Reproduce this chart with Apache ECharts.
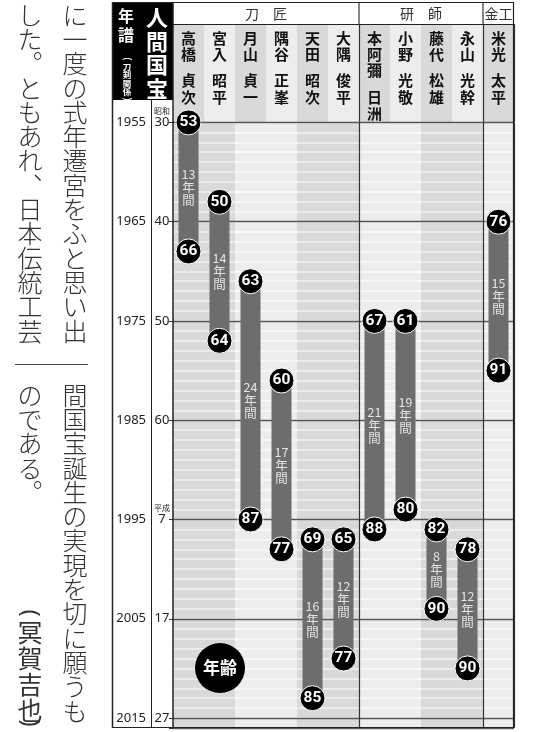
<!DOCTYPE html>
<html><head><meta charset="utf-8">
<script src="https://cdn.jsdelivr.net/npm/echarts@6.0.0/dist/echarts.min.js"></script>
<style>html,body{margin:0;padding:0;background:#fff}#c{width:537px;height:732px}</style>
</head><body><div id="c"></div>
<script>
// ---- data ----
const familyNames = ['高橋','宮入','月山','隅谷','天田','大隅','本阿彌','小野','藤代','永山','米光'];
const givenNames  = ['貞次','昭平','貞一','正峯','昭次','俊平','日洲','光敬','松雄','光幹','太平'];
const groupLabels = ['刀　匠','研　師','金工'];
const groupSizes  = [6,4,1];
const startYears  = [1955,1963,1971,1981,1997,1997,1975,1975,1996,1998,1965];
const endYears    = [1968,1977,1995,1998,2013,2009,1996,1994,2004,2010,1980];
const startAges   = [53,50,63,60,69,65,67,61,82,78,76];
const endAges     = [66,64,87,77,85,77,88,80,90,90,91];
const durations   = [13,14,24,17,16,12,21,19,8,12,15];
const yearTicks   = [1955,1965,1975,1985,1995,2005,2015];
const eraTicks    = ['30','40','50','60','7','17','27'];
const eraNames    = {1955:'昭和',1995:'平成'};
const bodyTop1 = ['に一度の式年遷宮をふと思い出','した。ともあれ、日本伝統工芸'];
const bodyTop2 = ['間国宝誕生の実現を切に願うも','のである。'];
const byline = '冥賀吉也';

// ---- layout ----
const GL = 173, GR = 23, W = 537;
const cw = (W - GL - GR) / familyNames.length;
const CJK = '"Noto Sans CJK JP","Noto Sans CJK SC",sans-serif';
const vert = s => s.replace(/。/g,'︒').replace(/、/g,'︑').split('').join('\n');

const chart = echarts.init(document.getElementById('c'), null, {renderer:'canvas'});

const circleData = [];
familyNames.forEach((_, i) => {
  circleData.push([i, startYears[i], startAges[i]]);
  circleData.push([i, endYears[i], endAges[i]]);
});
const barData = familyNames.map((_, i) => [i, startYears[i], endYears[i], durations[i]]);

const areaColors = ['#d9d9d9', '#ededed'];
const sepLine = {show:true, interval:(idx) => idx === 6 || idx === 10, lineStyle:{color:'#333', width:1.2}};

// graphics (frame, header, body text)
const graphics = [];
const line = (x1,y1,x2,y2,w,c) => graphics.push({type:'line', shape:{x1,y1,x2,y2}, style:{stroke:c||'#222', lineWidth:w||1.2}, z:100});
// black title block
graphics.push({type:'rect', shape:{x:112, y:2, width:61, height:98}, style:{fill:'#000'}, z:99});
graphics.push({type:'text', x:157, y:6, style:{text:vert('人間国宝'), fontSize:22, lineHeight:23.5, fontWeight:'bold', fontFamily:CJK, fill:'#fff', align:'center', verticalAlign:'top'}, z:101});
graphics.push({type:'text', x:126, y:6, style:{text:vert('年譜'), fontSize:16, lineHeight:19, fontWeight:'bold', fontFamily:CJK, fill:'#fff', align:'center', verticalAlign:'top'}, z:101});
graphics.push({type:'text', x:127, y:62, style:{text:vert('刀剣関係'), fontSize:8.5, lineHeight:8.6, fontWeight:'bold', fontFamily:CJK, fill:'#fff', align:'center', verticalAlign:'top'}, z:101});
graphics.push({type:'text', x:127, y:59, rotation:-Math.PI/2, style:{text:'(', fontSize:10, fontFamily:'"Noto Sans",sans-serif', fill:'#fff', align:'center', verticalAlign:'middle'}, z:101});
graphics.push({type:'text', x:127, y:99, rotation:-Math.PI/2, style:{text:')', fontSize:10, fontFamily:'"Noto Sans",sans-serif', fill:'#fff', align:'center', verticalAlign:'middle'}, z:101});
// frame
line(112.5,2,112.5,728,1.5);
line(151.5,100,151.5,728,1);
line(173,2,173,728,1.5);
line(112,2.5,514,2.5,1.2);
line(173,24.5,514,24.5,1.2);
line(513.5,2,513.5,728,1.2);
line(112,727.5,514,727.5,1.2);
// group header
let acc = 0;
groupLabels.forEach((g, k) => {
  const cx = GL + (acc + groupSizes[k] / 2) * cw;
  graphics.push({type:'text', x:cx, y:13.5, style:{text:g, fontSize:14, fontFamily:CJK, fill:'#333', align:'center', verticalAlign:'middle'}, z:101});
  acc += groupSizes[k];
  if (k < groupLabels.length - 1) line(GL + acc * cw, 2, GL + acc * cw, 24, 1.2, '#333');
});
// body text (vertical, two tiers)
const bodyStyle = {fontSize:25, lineHeight:24.3, fontFamily:CJK, fontWeight:300, fill:'#333', align:'center', verticalAlign:'top'};
graphics.push({type:'text', x:75, y:3, style:Object.assign({text:vert(bodyTop1[0])}, bodyStyle)});
graphics.push({type:'text', x:30, y:3, style:Object.assign({text:vert(bodyTop1[1])}, bodyStyle)});
graphics.push({type:'line', shape:{x1:15, y1:364.5, x2:88, y2:364.5}, style:{stroke:'#444', lineWidth:1}});
graphics.push({type:'text', x:75, y:383, style:Object.assign({text:vert(bodyTop2[0])}, bodyStyle)});
graphics.push({type:'text', x:30, y:383, style:Object.assign({text:vert(bodyTop2[1])}, bodyStyle)});
graphics.push({type:'text', x:30, y:619, style:Object.assign({}, bodyStyle, {text:vert(byline), lineHeight:26, fontWeight:'normal'})});
graphics.push({type:'text', x:30, y:613, rotation:-Math.PI/2, style:{text:'(', fontSize:24, fontFamily:'"Noto Sans",sans-serif', fill:'#333', align:'center', verticalAlign:'middle'}});
graphics.push({type:'text', x:30, y:723, rotation:-Math.PI/2, style:{text:')', fontSize:24, fontFamily:'"Noto Sans",sans-serif', fill:'#333', align:'center', verticalAlign:'middle'}});
// age legend
graphics.push({type:'circle', shape:{cx:220, cy:668, r:25}, style:{fill:'#000'}, z:100});
graphics.push({type:'text', x:220, y:668, style:{text:'年齢', fontSize:17, fontWeight:'bold', fontFamily:CJK, fill:'#fff', align:'center', verticalAlign:'middle'}, z:101});

const yBase = {gridIndex:1, type:'value', inverse:true, min:1955, max:2016, position:'left', offset:0, z:1};

const option = {
  animation: false,
  backgroundColor: '#fff',
  grid: [
    {left:GL, right:GR, top:24, height:98.4, outerBoundsMode:'none'},
    {left:GL, right:GR, top:122.4, bottom:4, outerBoundsMode:'none'}
  ],
  xAxis: [
    {gridIndex:0, type:'category', data:familyNames, position:'top', z:0,
     axisLine:{show:false}, axisTick:{show:false},
     axisLabel:{show:true, inside:true, interval:0, margin:6, verticalAlign:'top',
       formatter:(v, idx) => familyNames[idx].split('').map(c => '{n|' + c + '}').join('\n') + '\n{g| }\n' + givenNames[idx].split('').map(c => '{n|' + c + '}').join('\n'),
       rich:{n:{fontSize:15, lineHeight:16.3, fontWeight:'bold', fontFamily:CJK, color:'#111'}, g:{fontSize:8, lineHeight:10}}},
     splitArea:{show:true, areaStyle:{color:areaColors}}, splitLine:sepLine},
    {gridIndex:1, type:'category', data:familyNames, position:'bottom', z:0,
     axisLine:{show:false}, axisTick:{show:false}, axisLabel:{show:false},
     splitArea:{show:true, areaStyle:{color:areaColors}}, splitLine:{show:false}},
    {gridIndex:1, type:'category', data:familyNames, position:'top', z:1.5,
     axisLine:{show:false}, axisTick:{show:false}, axisLabel:{show:false},
     splitArea:{show:false}, splitLine:sepLine}
  ],
  yAxis: [
    {gridIndex:0, type:'value', min:0, max:1, show:false},
    Object.assign({}, yBase, {interval:1,
     axisLine:{show:false}, axisTick:{show:false}, axisLabel:{show:false},
     splitLine:{show:true, lineStyle:{color:'rgba(255,255,255,0.65)', width:1.6}}}),
    Object.assign({}, yBase, {interval:10,
     axisLine:{show:false}, axisTick:{show:false},
     axisLabel:{show:true, margin:27, fontSize:13, color:'#222', fontFamily:'"Noto Sans",sans-serif',
       showMinLabel:true, showMaxLabel:true,
       formatter:v => yearTicks.indexOf(v) >= 0 ? String(v) : ''},
     splitLine:{show:true, lineStyle:{color:'#555', width:1.3}}}),
    Object.assign({}, yBase, {interval:10,
     axisLine:{show:false}, axisTick:{show:true, length:4, lineStyle:{color:'#333'}},
     splitLine:{show:false},
     axisLabel:{show:true, margin:11, align:'center', fontFamily:'"Noto Sans",sans-serif',
       showMinLabel:true, showMaxLabel:true,
       formatter:v => {
         const k = yearTicks.indexOf(v);
         if (k < 0) return '';
         const en = eraNames[v];
         return en ? '{s|' + en + '}\n{n|' + eraTicks[k] + '}\n{s| }' : '{n|' + eraTicks[k] + '}';
       },
       rich:{s:{fontSize:8, lineHeight:9, color:'#222', fontFamily:CJK}, n:{fontSize:13, lineHeight:14, color:'#222', fontFamily:'"Noto Sans",sans-serif'}}}})
  ],
  series: [
    {type:'custom', xAxisIndex:1, yAxisIndex:1, data:barData, z:2,
     renderItem:(params, api) => {
       const i = api.value(0), s = api.value(1), e = api.value(2), d = api.value(3);
       const p1 = api.coord([i, s]), p2 = api.coord([i, e]);
       const w = 20;
       return {type:'group', children:[
         {type:'rect', shape:{x:p1[0] - w/2, y:p1[1], width:w, height:p2[1] - p1[1]}, style:{fill:'#6d6d6d'}},
         {type:'text', x:p1[0], y:(p1[1] + p2[1]) / 2, style:{text:d + '\n年\n間', fontSize:12.5, lineHeight:13, fontFamily:CJK, fill:'#e4e4e4', align:'center', verticalAlign:'middle'}}
       ]};
     }},
    {type:'scatter', xAxisIndex:1, yAxisIndex:1, data:circleData, z:5,
     symbol:'circle', symbolSize:25,
     itemStyle:{color:'#000', borderColor:'#fff', borderWidth:1, opacity:1},
     label:{show:true, position:'inside', formatter:p => String(p.value[2]), color:'#fff', fontSize:15.5, fontWeight:'bold', fontFamily:'Roboto,"Noto Sans",sans-serif'}}
  ],
  graphic: graphics
};
chart.setOption(option);
</script></body></html>
